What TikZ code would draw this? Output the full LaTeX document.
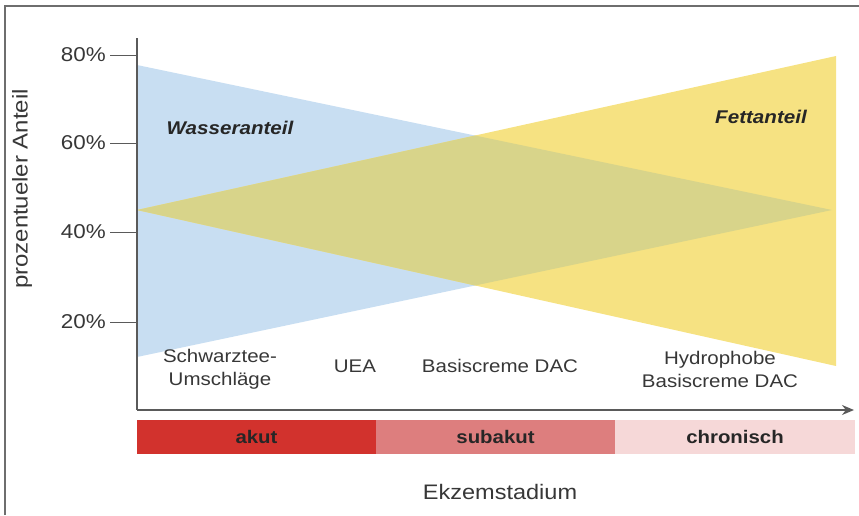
\documentclass[tikz,border=0pt]{standalone}
\usepackage{fontspec}
\setmainfont{Liberation Sans}[FakeStretch=1.12]
\usetikzlibrary{arrows.meta}
\definecolor{frameg}{RGB}{110,110,110}
\definecolor{axisg}{RGB}{90,90,90}
\definecolor{txt}{RGB}{55,55,55}
\definecolor{wblue}{RGB}{200,222,242}
\definecolor{fyellow}{RGB}{246,226,130}
\definecolor{mix}{RGB}{216,212,138}
\definecolor{cakut}{RGB}{210,50,45}
\definecolor{csub}{RGB}{221,126,126}
\definecolor{cchron}{RGB}{246,216,216}
\tikzset{
  lbl/.style={text=txt, font=\fontsize{18.3}{23}\selectfont, align=center, inner sep=0pt},
  ticklbl/.style={text=txt, font=\fontsize{20}{22}\selectfont, anchor=east, inner sep=0pt},
  series/.style={text=black!85, font=\fontsize{18.4}{22}\selectfont\bfseries\itshape, inner sep=0pt},
  stage/.style={minimum width=239pt, minimum height=34pt, inner sep=0pt, text=black!85, font=\fontsize{18.2}{22}\selectfont\bfseries},
  axisline/.style={draw=axisg, line width=1.4pt},
}
\begin{document}
\begin{tikzpicture}[x=1pt,y=-1pt]
\useasboundingbox (0,0) rectangle (859,515);
% frame
\draw[frameg, line width=1.5pt] (5,515) -- (5,6) -- (859,6);
% triangles
\coordinate (b1) at (137,65);
\coordinate (b2) at (137,357);
\coordinate (b3) at (832,210);
\coordinate (y1) at (137,210);
\coordinate (y2) at (836,56);
\coordinate (y3) at (836,366);
\fill[wblue] (b1) -- (b2) -- (b3) -- cycle;
\fill[fyellow] (y1) -- (y2) -- (y3) -- cycle;
\begin{scope}
\clip (b1) -- (b2) -- (b3) -- cycle;
\fill[mix] (y1) -- (y2) -- (y3) -- cycle;
\end{scope}
% axes
\coordinate (o) at (137,410);
\coordinate (ytop) at (137,38);
\coordinate (xend) at (854,410);
\draw[axisline] (ytop) -- (o);
\draw[axisline, -{Stealth[length=12pt,width=10pt]}] (o) -- (xend);
% ticks
\foreach \v/\yy in {80/55,60/143,40/232,20/322}{
  \coordinate (t\v) at (110,\yy);
  \coordinate (a\v) at (137,\yy);
  \draw[axisg, line width=1pt] (t\v) -- (a\v);
  \node[ticklbl] (l\v) at (106,\yy) {\v\%};
}
\node[lbl, rotate=90, font=\fontsize{21.4}{24}\selectfont] (ylab) at (22,189) {prozentueler Anteil};
% series labels
\node[series] (wasser) at (230,128) {Wasseranteil};
\node[series] (fett) at (761,117) {Fettanteil};
% product labels
\node[lbl] (schw) at (220,369) {Schwarztee-\\Umschläge};
\node[lbl] (uea) at (355,366) {UEA};
\node[lbl] (basis) at (500,366) {Basiscreme DAC};
\node[lbl] (hydro) at (720,369) {Hydrophobe\\Basiscreme DAC};
% stages
\node[stage, fill=cakut] (akut) at (256.5,437) {akut};
\node[stage, fill=csub] (subakut) at (495.5,437) {subakut};
\node[stage, fill=cchron, minimum width=240pt] (chron) at (735,437) {chronisch};
\node[lbl, font=\fontsize{21}{24}\selectfont] (ekz) at (500,492) {Ekzemstadium};
\end{tikzpicture}
\end{document}
